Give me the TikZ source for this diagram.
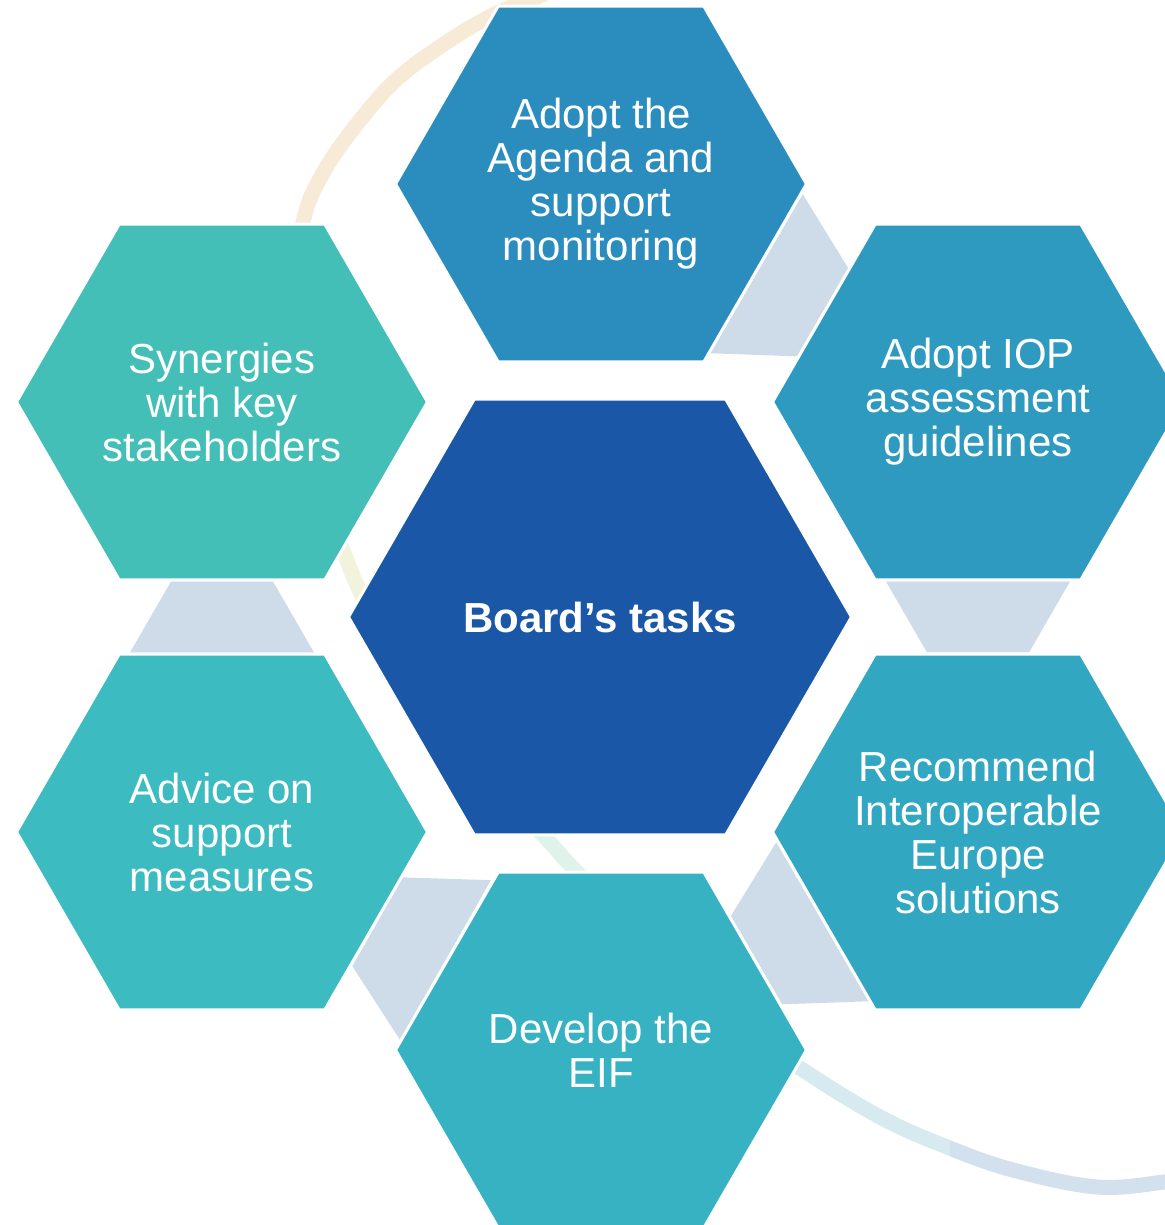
\documentclass[tikz,border=0pt]{standalone}
\usepackage{fontspec}
\setmainfont{Liberation Sans}
\usetikzlibrary{shapes.geometric,calc}
\pgfdeclarelayer{bottom}
\pgfdeclarelayer{background}
\pgfsetlayers{bottom,background,main}
\definecolor{cCenter}{HTML}{1A58A7}
\definecolor{cTop}{HTML}{2A8DBE}
\definecolor{cUR}{HTML}{2E9AC0}
\definecolor{cLR}{HTML}{32A7C1}
\definecolor{cB}{HTML}{37B2C3}
\definecolor{cLL}{HTML}{3CBBC1}
\definecolor{cUL}{HTML}{43BFB8}
\definecolor{cConn}{HTML}{CEDBE8}
\definecolor{bandA}{HTML}{F7EAD7}
\definecolor{bandB}{HTML}{F1F3DC}
\definecolor{bandC}{HTML}{E0F3EA}
\definecolor{bandD}{HTML}{D6EAEF}
\definecolor{bandE}{HTML}{D3E0EE}
\newcommand\bandpath{plot[smooth,tension=0.6] coordinates {(575,-20) (535,-2) (493,15) (447,42) (397,79) (357,124) (323,173) (303,222) (288,320) (295,430) (342,548) (362,595) (400,660) (470,760) (543,835) (577,872) (640,930) (720,1010) (800,1068) (880,1117) (947,1147) (1013,1170) (1097,1187) (1164,1182) (1190,1176)}}
\newcommand\linkshape[4]{%
  \coordinate (ma) at (#1.#2);
  \coordinate (mb) at (#3.#4);
  \coordinate (wc) at ($(ma)!1.5pt!(mb)$);
  \coordinate (nc) at ($(mb)!1.5pt!(ma)$);
  \fill[conn] ($(wc)!92pt!90:(nc)$) -- ($(nc)!51pt!-90:(wc)$) -- ($(nc)!51pt!90:(wc)$) -- ($(wc)!92pt!-90:(nc)$) -- cycle;
}
\begin{document}
\begin{tikzpicture}[x=1pt,y=-1pt,
  hexa/.style={regular polygon, regular polygon sides=6, minimum size=411pt,
    inner sep=0pt, outer sep=0pt, draw=white, line width=3pt, text=white,
    align=center, font=\fontsize{42}{44}\selectfont},
  conn/.style={fill=cConn},
  band/.style={line width=15pt}]
\useasboundingbox (0,0) rectangle (1164,1225);
\begin{pgfonlayer}{bottom}
\fill[white] (0,0) rectangle (1164,1225);
\end{pgfonlayer}

% background band
\begin{scope}\clip (-50,-50) rectangle (1250,300);
  \draw[band, bandA] \bandpath; \end{scope}
\begin{scope}\clip (-50,300) rectangle (1250,700);
  \draw[band, bandB] \bandpath; \end{scope}
\begin{scope}\clip (-50,700) rectangle (1250,950);
  \draw[band, bandC] \bandpath; \end{scope}
\begin{scope}\clip (-50,950) rectangle (950,1300);
  \draw[band, bandD] \bandpath; \end{scope}
\begin{scope}\clip (950,950) rectangle (1250,1300);
  \draw[band, bandE] \bandpath; \end{scope}

% hexagons
\path
  node[hexa, fill=cTop] (t)  at (601,184)  {Adopt the\\Agenda and\\support\\monitoring}
  node[hexa, fill=cUR]  (ur) at (978,402)  {Adopt IOP\\assessment\\guidelines}
  node[hexa, fill=cLR]  (lr) at (978,832)  {Recommend\\Interoperable\\Europe\\solutions}
  node[hexa, fill=cB]   (b)  at (601,1050) {Develop the\\EIF}
  node[hexa, fill=cLL]  (ll) at (222,832)  {Advice on\\support\\measures}
  node[hexa, fill=cUL]  (ul) at (222,402)  {Synergies\\with key\\stakeholders}
  node[hexa, fill=cCenter, minimum size=503pt, font=\fontsize{42}{44}\selectfont\bfseries] (c) at (600,617) {Board’s tasks};

% link shapes between neighbouring hexagons
\begin{pgfonlayer}{background}
\linkshape{t}{-30}{ur}{150}
\linkshape{ur}{-90}{lr}{90}
\linkshape{lr}{-150}{b}{30}
\linkshape{b}{150}{ll}{-30}
\linkshape{ll}{90}{ul}{-90}
\end{pgfonlayer}
\end{tikzpicture}
\end{document}
